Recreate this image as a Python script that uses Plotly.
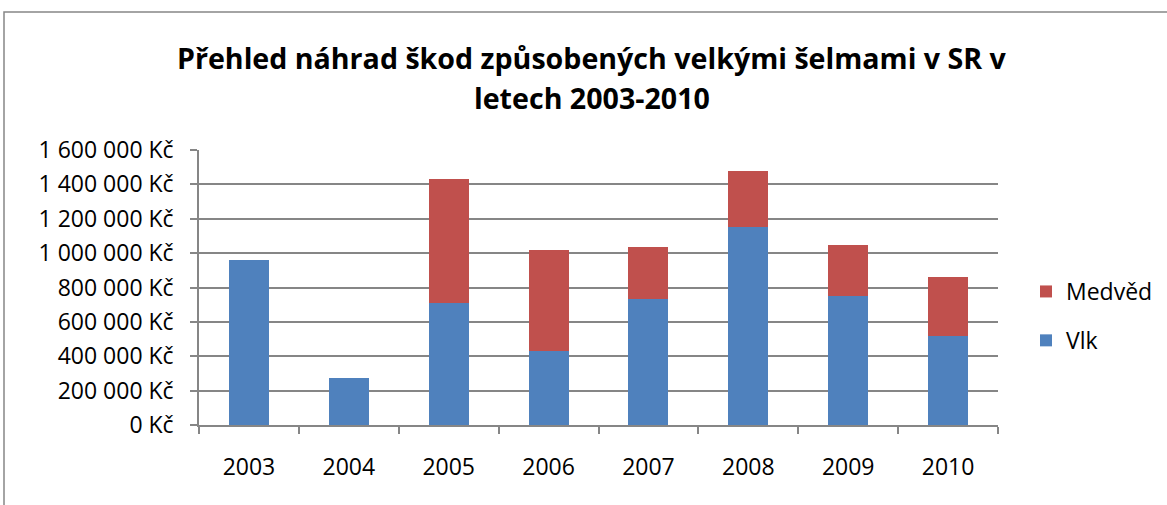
import plotly.graph_objects as go

years = ["2003", "2004", "2005", "2006", "2007", "2008", "2009", "2010"]
vlk = [960000, 272000, 708000, 429000, 731000, 1154000, 752000, 516000]
medved = [0, 0, 721000, 589000, 306000, 324000, 293000, 345000]
y_ticks = [0, 200000, 400000, 600000, 800000, 1000000, 1200000, 1400000, 1600000]
y_labels = ["0 Kč", "200 000 Kč", "400 000 Kč", "600 000 Kč", "800 000 Kč",
            "1 000 000 Kč", "1 200 000 Kč", "1 400 000 Kč", "1 600 000 Kč"]
title_lines = ["Přehled náhrad škod způsobených velkými šelmami v SR v", "letech 2003-2010"]

FONT = "Open Sans"
W, H = 1167, 505
ML, MR, MT, MB = 199, 169, 150, 80
pw = W - ML - MR
ph = H - MT - MB


def px_x(p):
    return (p - ML) / pw


def px_y(p):
    return (H - MB - p) / ph


fig = go.Figure()
fig.add_trace(go.Bar(x=years, y=vlk, name="Vlk", legendrank=2, legendgroup="vlk",
                     marker=dict(color="#4F81BD", line=dict(width=0))))
fig.add_trace(go.Bar(x=years, y=medved, name="Medvěd", legendrank=1, legendgroup="medved",
                     marker=dict(color="#C0504D", line=dict(width=0))))

annotations = []
for line, yc in zip(title_lines, [57, 98]):
    annotations.append(dict(text="<b>" + line + "</b>", xref="paper", yref="paper",
                            x=px_x(592), xanchor="center", y=px_y(yc), yanchor="middle",
                            showarrow=False, font=dict(family=FONT, size=28.6, color="black")))

fig.update_layout(
    width=W, height=H,
    barmode="stack", bargap=0.6,
    paper_bgcolor="white", plot_bgcolor="white",
    margin=dict(l=ML, r=MR, t=MT, b=MB, autoexpand=False),
    font=dict(family=FONT, size=23, color="black"),
    annotations=annotations,
    legend=dict(x=px_x(1026), xanchor="left", y=px_y(316), yanchor="middle",
                traceorder="grouped", tracegroupgap=16, itemwidth=30,
                font=dict(size=23), bgcolor="rgba(0,0,0,0)"),
    showlegend=True,
    shapes=[dict(type="rect", xref="paper", yref="paper",
                 x0=px_x(4), x1=px_x(W + 10), y0=px_y(H + 10), y1=px_y(12),
                 line=dict(color="#868686", width=1.5), layer="below")],
)
fig.update_xaxes(showline=True, linecolor="#868686", linewidth=1.5,
                 ticks="outside", tickson="boundaries", ticklen=7, tickcolor="#868686", tickwidth=1.5,
                 showgrid=False, ticklabelstandoff=21)
fig.update_yaxes(range=[0, 1600000], tickvals=y_ticks, ticktext=y_labels,
                 showline=True, linecolor="#868686", linewidth=1.5,
                 ticks="outside", ticklen=7, tickcolor="#868686", tickwidth=1.5,
                 showgrid=True, gridcolor="#868686", gridwidth=1.5,
                 zeroline=False, ticklabelstandoff=12)

fig.write_html("out.html", config={"displayModeBar": False},
               post_script="document.body.style.margin='0';document.body.style.overflow='hidden';")
